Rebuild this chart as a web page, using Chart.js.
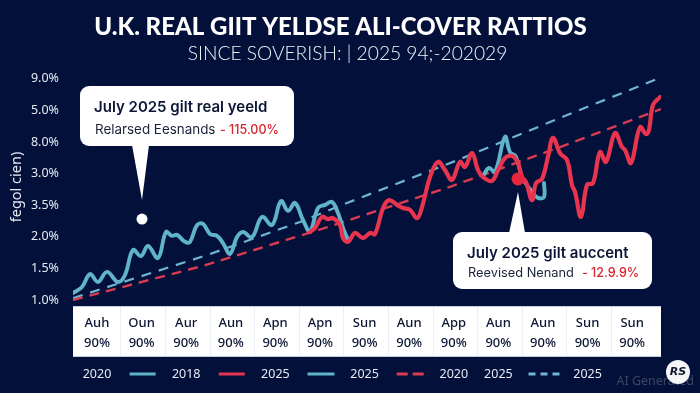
<!DOCTYPE html>
<html>
<head>
<meta charset="utf-8">
<title>U.K. real gilt yields</title>
<script src="https://cdn.jsdelivr.net/npm/chart.js@4"></script>
<style>
    html, body { margin: 0; padding: 0; background: #03103a; }
    #wrap { position: relative; width: 700px; height: 393px; }
</style>
</head>
<body>
<div id="wrap"><canvas id="chartGilt" width="700" height="393"></canvas></div>
<script>
// tick labels (the axis labels are not in numeric order, y values are tick positions)
var yTickLabels = ["1.0%", "1.5%", "2.0%", "3.5%", "3.0%", "8.0%", "5.0%", "9.0%"];
var monthLabels = ["Auh", "Oun", "Aur", "Aun", "Apn", "Apn", "Sun", "Aun", "App", "Aun", "Aun", "Sun", "Sun"];
var monthValues = ["90%", "90%", "90%", "90%", "90%", "90%", "90%", "90%", "90%", "90%", "90%", "90%", "90%"];
var legendLabels = ["2020", "2018", "2025", "2025", "2020", "2025", "2025"];

// series, x is period index
var tealX = [0, 2.25, 4.25, 6.25, 8.5, 11.25, 13, 15, 17, 18.75, 21.25, 23.25, 24.75, 26, 28, 29.25, 31, 32.5, 34.25, 36, 37.5, 39.25, 41, 42.5, 44.75, 47.25, 49.75, 52, 53.75, 55.5, 57.5, 59.25, 61.25, 63, 64.75, 66.25, 67.5, 68.75];
var tealY = [0.22, 0.41, 0.82, 0.57, 0.89, 0.57, 0.79, 1.58, 1.39, 1.71, 1.33, 2.15, 2.03, 2.06, 1.84, 1.84, 2.37, 2.41, 2.09, 2.03, 1.80, 1.46, 1.99, 2.15, 1.99, 2.63, 2.37, 3.13, 2.82, 3.07, 2.53, 2.18, 2.91, 3.01, 3.10, 2.75, 2.28, 1.90];

var teal2X = [102.5, 104, 105.5, 108, 109.25, 110.75, 112.25, 114.75, 116.25, 117.75, 117.75];
var teal2Y = [3.92, 4.18, 4.05, 5.16, 4.68, 4.53, 3.89, 3.42, 3.23, 3.26, 3.70];

var redX = [59.25, 60.5, 62.25, 63.75, 65, 66.75, 67.5, 68.75, 70.5, 72.5, 74.25, 75.5, 77.5, 79, 81, 82.5, 84.25, 86, 87.25, 89.25, 91.25, 93, 94.75, 96.75, 98, 99.75, 101.25, 102.5, 104.75, 106.25, 108, 109.75, 111.25, 112.25, 113.25, 114.75, 115.75, 117.25, 118.75, 120, 121.75, 123.5, 124.75, 125.5, 127, 128.5, 130, 131.75, 133.25, 135.5, 137.25, 138, 139.5, 141.75, 143.25, 144, 145, 146.75];
var redY = [2.15, 2.28, 2.63, 2.56, 2.59, 2.37, 1.96, 1.84, 2.12, 1.96, 2.12, 2.09, 2.91, 3.16, 3.01, 2.91, 2.85, 2.59, 2.94, 3.89, 4.37, 4.11, 3.80, 4.37, 4.21, 4.65, 4.11, 3.89, 3.77, 4.11, 4.49, 4.56, 4.34, 3.89, 3.73, 3.16, 3.70, 3.83, 4.53, 5.13, 4.65, 4.43, 3.64, 3.42, 2.63, 3.64, 3.70, 4.68, 4.37, 5.28, 4.84, 4.75, 4.34, 5.47, 5.25, 5.38, 6.17, 6.42];

var redDashX = [0, 32.5, 63, 94.25, 121.75, 147];
var redDashY = [0, 1.08, 2.28, 3.58, 4.84, 6.04];

var tealDashX = [0, 33.5, 56.75, 68.5, 96.25, 121.75, 146.75];
var tealDashY = [0.06, 1.42, 2.47, 3.07, 4.43, 5.76, 7.03];

var whiteDotX = [17.25];
var whiteDotY = [2.56];
var redDotX = [111.25];
var redDotY = [3.83];

var TEAL = "#5fb4c9";
var RED = "#e8344e";
var TEAL_DASH = "#6fb4d2";
var RED_DASH = "#d93b52";
var NAVY = "#0b1636";

function points(xs, ys) {
    return xs.map(function (x, i) {
        return { x: x, y: ys[i] };
    });
}

function roundRect(ctx, x, y, w, h, r) {
    ctx.beginPath();
    ctx.roundRect(x, y, w, h, r);
    ctx.fill();
}

function drawCallout(ctx, box, tipX, tipY, baseL, baseR, tailY) {
    ctx.fillStyle = "#ffffff";
    roundRect(ctx, box.x, box.y, box.w, box.h, 9);
    ctx.beginPath();
    ctx.moveTo(baseL, tailY);
    ctx.lineTo(baseR, tailY);
    ctx.lineTo(tipX, tipY);
    ctx.closePath();
    ctx.fill();

    ctx.textAlign = "left";
    ctx.textBaseline = "alphabetic";
    ctx.fillStyle = NAVY;
    ctx.font = "600 15px Inter";
    ctx.fillText(box.title, box.x + box.padX, box.y + box.titleY);
    ctx.font = "400 " + box.textSize + "px Inter";
    ctx.fillStyle = "#1a2238";
    ctx.fillText(box.text, box.x + box.padX + 1, box.y + box.textY);
    ctx.font = "500 12.5px Inter";
    ctx.fillStyle = "#d9252e";
    ctx.fillText(box.delta, box.deltaX, box.y + box.textY);
}

var chartDecor = {
    id: "chartDecor",
    beforeDraw: function (chart) {
        var ctx = chart.ctx;
        var area = chart.chartArea;
        var xScale = chart.scales.x;
        var top = area.bottom;
        var bottom = area.bottom + 51;
        ctx.save();

        ctx.textAlign = "center";
        ctx.textBaseline = "alphabetic";
        ctx.fillStyle = "#ffffff";
        ctx.font = "900 24px Lato";
        ctx.fillText("U.K. REAL GIIT YELDSE ALI-COVER RATTIOS", 340.5, 35);
        ctx.fillStyle = "#eef1f6";
        ctx.font = "300 19.2px Lato";
        ctx.fillText("SINCE SOVERISH: | 2025 94;-202029", 347.5, 60);

        ctx.fillStyle = "#ffffff";
        ctx.fillRect(area.left, top, area.right - area.left, 51);
        ctx.strokeStyle = "#c4cedc";
        ctx.lineWidth = 1;
        ctx.beginPath();
        ctx.moveTo(area.left, top + 0.5);
        ctx.lineTo(area.right, top + 0.5);
        ctx.moveTo(area.left, bottom - 0.5);
        ctx.lineTo(area.right, bottom - 0.5);
        ctx.stroke();
        ctx.strokeStyle = "#eceff3";
        ctx.beginPath();
        for (var i = 0; i < xScale.ticks.length - 1; i++) {
            var mid = Math.round((xScale.getPixelForTick(i) + xScale.getPixelForTick(i + 1)) / 2) + 1.5;
            ctx.moveTo(mid, top + 1);
            ctx.lineTo(mid, bottom - 1);
        }
        ctx.stroke();
        ctx.restore();
    },
    afterDatasetsDraw: function (chart) {
        var ctx = chart.ctx;
        var xScale = chart.scales.x;
        var yScale = chart.scales.y;
        ctx.save();

        var wx = xScale.getPixelForValue(whiteDotX[0]);
        var wy = yScale.getPixelForValue(whiteDotY[0]);
        drawCallout(ctx, {
            x: 80, y: 86, w: 214, h: 60, padX: 14, titleY: 26, textY: 48, textSize: 13.4,
            title: "July 2025 gilt real yeeld",
            text: "Relarsed Eesnands",
            delta: "- 115.00%", deltaX: 220
        }, wx, wy - 19, 132, 149, 145);

        var rx = xScale.getPixelForValue(redDotX[0]);
        var ry = yScale.getPixelForValue(redDotY[0]);
        drawCallout(ctx, {
            x: 453, y: 232, w: 199, h: 57, padX: 14, titleY: 26, textY: 45, textSize: 12.8,
            title: "July 2025 gilt auccent",
            text: "Reevised Nenand",
            delta: "- 12.9.9%", deltaX: 582
        }, rx, ry + 13, 509, 525, 233);

        // legend row, sits on the same columns as the table
        var legendY = 374;
        var textTicks = [0, 2, 4, 6, 8, 9, 11];
        ctx.font = "400 12.5px 'Noto Sans'";
        ctx.textAlign = "center";
        ctx.textBaseline = "middle";
        ctx.fillStyle = "#e6eaf2";
        legendLabels.forEach(function (label, i) {
            ctx.fillText(label, xScale.getPixelForTick(textTicks[i]), legendY);
        });
        var swatches = [
            { tick: 1, color: TEAL, w: 26, dash: [] },
            { tick: 3, color: RED, w: 26, dash: [] },
            { tick: 5, color: TEAL, w: 27, dash: [] },
            { tick: 7, color: RED_DASH, w: 27, dash: [11, 5] },
            { tick: 10, color: TEAL_DASH, w: 31, dash: [7, 5] }
        ];
        ctx.lineWidth = 3;
        swatches.forEach(function (s) {
            var cx = xScale.getPixelForTick(s.tick) + 1;
            ctx.strokeStyle = s.color;
            ctx.setLineDash(s.dash);
            ctx.beginPath();
            ctx.moveTo(cx - s.w / 2, legendY);
            ctx.lineTo(cx + s.w / 2, legendY);
            ctx.stroke();
        });
        ctx.setLineDash([]);

        // watermark
        ctx.font = "400 12.5px 'Noto Sans'";
        ctx.textAlign = "right";
        ctx.fillStyle = "#3c4761";
        ctx.fillText("AI Generated", 694, 381);
        ctx.fillStyle = "#f4f5f7";
        ctx.beginPath();
        ctx.arc(678, 372, 12, 0, Math.PI * 2);
        ctx.fill();
        ctx.font = "italic 700 11px 'DejaVu Sans'";
        ctx.textAlign = "center";
        ctx.fillStyle = "#10182c";
        ctx.fillText("RS", 678, 372);
        ctx.restore();
    }
};

var ctx = document.getElementById("chartGilt").getContext("2d");

var myChart = new Chart(ctx, {
    type: "line",
    data: {
        datasets: [
            { label: "white dot", data: points(whiteDotX, whiteDotY), showLine: false, pointRadius: 5.5, pointBackgroundColor: "#ffffff", pointBorderWidth: 0, order: 0 },
            { label: "red dot", data: points(redDotX, redDotY), showLine: false, pointRadius: 6.5, pointBackgroundColor: "#e8273f", pointBorderWidth: 0, order: 0 },
            { label: "2018", data: points(redX, redY), borderColor: RED, borderWidth: 4.2, tension: 0.4, pointRadius: 0, borderCapStyle: "round", borderJoinStyle: "round", order: 1 },
            { label: "2020", data: points(tealX, tealY), borderColor: TEAL, borderWidth: 3.9, tension: 0.4, pointRadius: 0, borderCapStyle: "round", borderJoinStyle: "round", order: 2 },
            { label: "2025", data: points(teal2X, teal2Y), borderColor: TEAL, borderWidth: 3.9, tension: 0.4, pointRadius: 0, borderCapStyle: "round", borderJoinStyle: "round", order: 2 },
            { label: "2020 trend", data: points(redDashX, redDashY), borderColor: RED_DASH, borderWidth: 2.4, borderDash: [10, 7], tension: 0, pointRadius: 0, order: 3 },
            { label: "2025 trend", data: points(tealDashX, tealDashY), borderColor: TEAL_DASH, borderWidth: 2.2, borderDash: [10, 8], tension: 0, pointRadius: 0, order: 4 }
        ]
    },
    options: {
        responsive: false,
        animation: false,
        layout: { padding: { left: 0, right: 39, top: 68, bottom: 36 } },
        plugins: {
            legend: { display: false },
            tooltip: { enabled: false }
        },
        scales: {
            x: {
                type: "linear",
                min: 0,
                max: 147,
                border: { display: false },
                grid: { display: false, drawTicks: false },
                afterBuildTicks: function (axis) {
                    axis.ticks = monthLabels.map(function (m, i) {
                        return { value: 6 + i * 11.15 };
                    });
                },
                afterFit: function (axis) {
                    axis.height = 51;
                },
                ticks: {
                    autoSkip: false,
                    maxRotation: 0,
                    padding: 7,
                    color: "#0a1533",
                    font: { family: "Noto Sans", size: 13, weight: "500", lineHeight: 1.54 },
                    callback: function (value, index) {
                        return [monthLabels[index], monthValues[index]];
                    }
                }
            },
            y: {
                type: "linear",
                min: -0.19,
                max: 7.34,
                border: { display: false },
                grid: { color: "rgba(255,255,255,0.02)", drawTicks: false },
                afterBuildTicks: function (axis) {
                    axis.ticks = yTickLabels.map(function (l, i) {
                        return { value: i };
                    });
                },
                afterFit: function (axis) {
                    axis.width = 73;
                },
                title: {
                    display: true,
                    text: "fegol cien)",
                    color: "#e6eaf2",
                    font: { family: "Noto Sans", size: 14.5 },
                    padding: { top: 8, bottom: 0 }
                },
                ticks: {
                    padding: 14,
                    color: "#e6eaf2",
                    font: { family: "Noto Sans", size: 12.5 },
                    callback: function (value, index) {
                        return yTickLabels[index];
                    }
                }
            }
        }
    },
    plugins: [chartDecor]
});
</script>
</body>
</html>
